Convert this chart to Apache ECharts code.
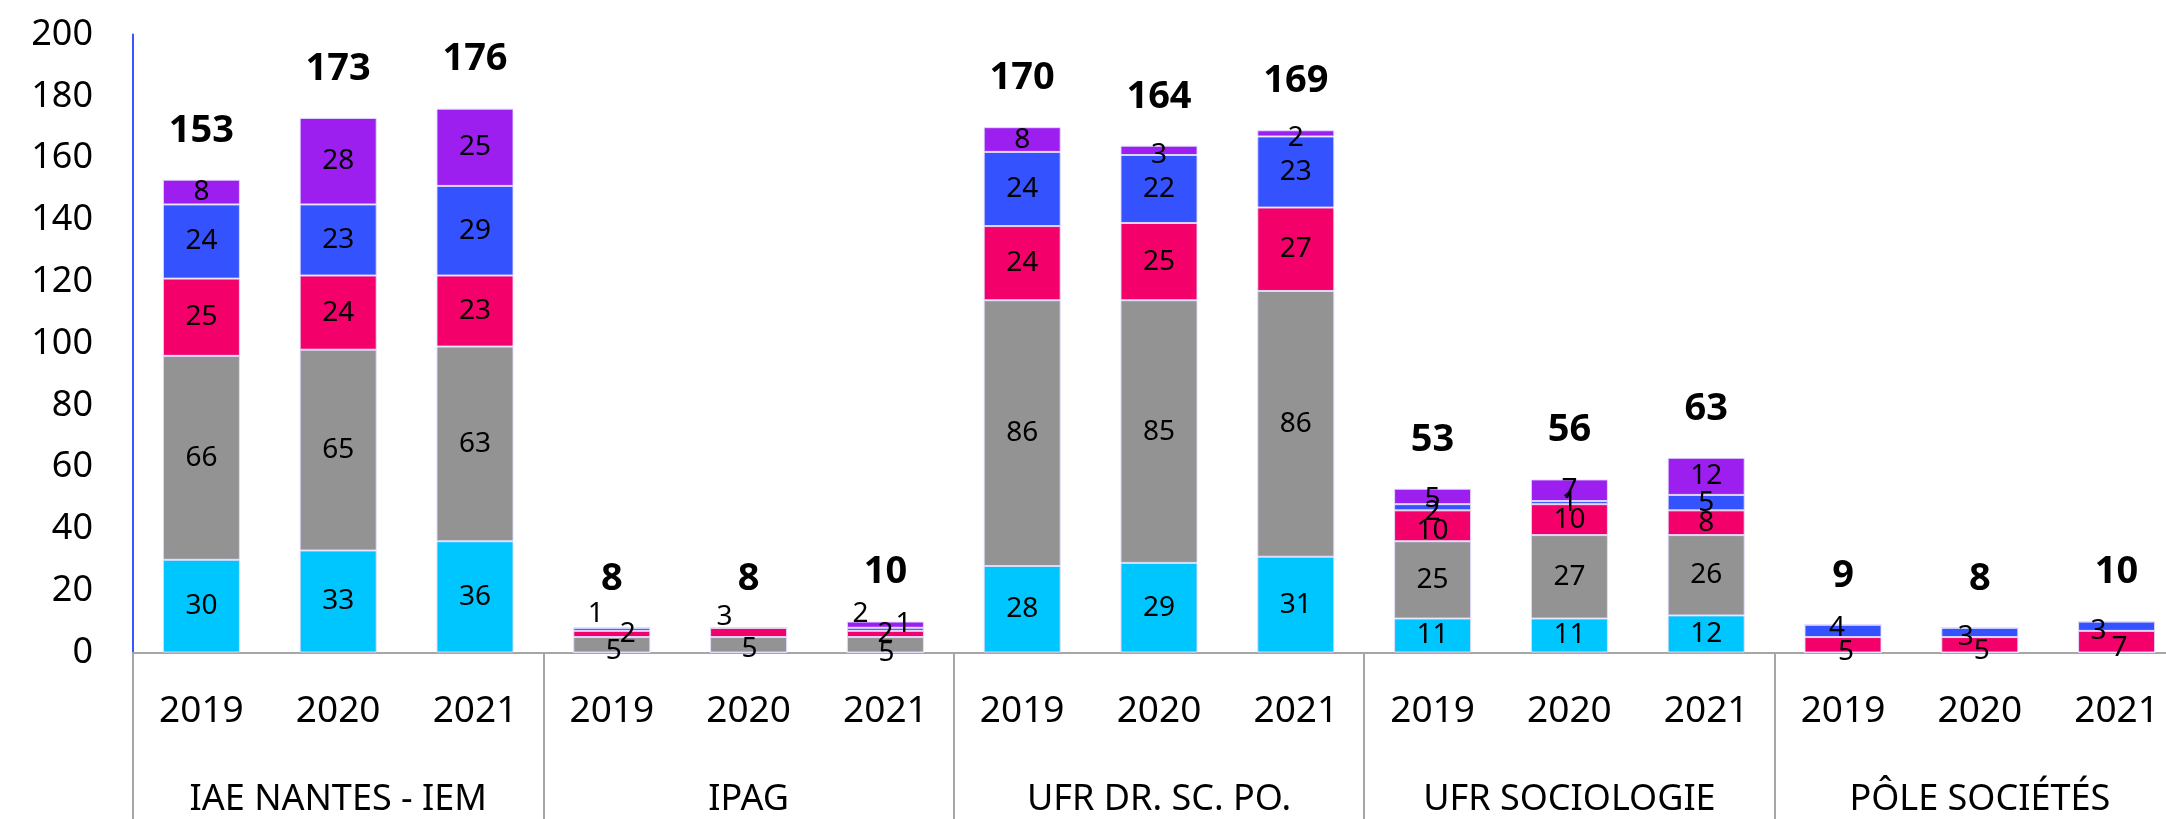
<!DOCTYPE html>
<html>
<head>
<meta charset="utf-8">
<script src="https://cdn.jsdelivr.net/npm/echarts@6/dist/echarts.min.js"></script>
<style>
html,body{margin:0;padding:0;background:#fff;overflow:hidden;}
#chart{width:2200px;height:819px;}
</style>
</head>
<body>
<div id="chart"></div>
<script>
// ---- data ----
const groups = ['IAE NANTES - IEM', 'IPAG', 'UFR DR. SC. PO.', 'UFR SOCIOLOGIE', 'PÔLE SOCIÉTÉS'];
const years = ['2019', '2020', '2021',
               '2019', '2020', '2021',
               '2019', '2020', '2021',
               '2019', '2020', '2021',
               '2019', '2020', '2021'];
const cyanValues   = [30, 33, 36, 0, 0, 0, 28, 29, 31, 11, 11, 12, 0, 0, 0];
const grayValues   = [66, 65, 63, 5, 5, 5, 86, 85, 86, 25, 27, 26, 0, 0, 0];
const redValues    = [25, 24, 23, 2, 3, 2, 24, 25, 27, 10, 10, 8, 5, 5, 7];
const blueValues   = [24, 23, 29, 1, 0, 1, 24, 22, 23, 2, 1, 5, 4, 3, 3];
const purpleValues = [8, 28, 25, 0, 0, 2, 8, 3, 2, 5, 7, 12, 0, 0, 0];
const totals       = [153, 173, 176, 8, 8, 10, 170, 164, 169, 53, 56, 63, 9, 8, 10];
const yTicks = [0, 20, 40, 60, 80, 100, 120, 140, 160, 180, 200];

// ---- styling ----
const FONT = 'Noto Sans';
const seriesDefs = [
  {name: 'cyan',   values: cyanValues,   color: '#00c6ff'},
  {name: 'gray',   values: grayValues,   color: '#939393'},
  {name: 'red',    values: redValues,    color: '#f3006a'},
  {name: 'blue',   values: blueValues,   color: '#3552ff'},
  {name: 'purple', values: purpleValues, color: '#9c1ff0'}
];
// label nudges (dx, dy) for crowded small segments, as in the reference
const labelNudges = {
  'gray:3': [2, 6], 'red:3': [16, 0], 'blue:3': [-16, -15],
  'gray:4': [1, 4], 'red:4': [-24, -15],
  'gray:5': [1, 8], 'blue:5': [18, -5], 'purple:5': [-25, -11],
  'purple:7': [0, 5], 'purple:8': [0, 5],
  'purple:9': [0, 3], 'blue:9': [0, 5], 'red:9': [0, 5],
  'blue:12': [-6, -3], 'red:12': [3, 7],
  'blue:13': [-14, 5], 'red:13': [2, 6],
  'blue:14': [-18, 5], 'red:14': [3, 6]
};

const barSeries = seriesDefs.map(def => ({
  name: def.name,
  type: 'bar',
  stack: 'total',
  barWidth: 77,
  xAxisIndex: 0,
  itemStyle: {color: def.color, borderColor: 'rgba(225,220,255,0.9)', borderWidth: 1},
  label: {
    show: true,
    position: 'inside',
    color: '#000',
    fontFamily: FONT,
    fontSize: 28,
    formatter: p => (p.value ? String(p.value) : '')
  },
  emphasis: {disabled: true},
  data: def.values.map((v, i) => {
    const n = labelNudges[def.name + ':' + i];
    return n ? {value: v, label: {offset: n}} : v;
  })
}));

// zero-height cap on each stack carrying the total label
const totalSeries = {
  name: 'total',
  type: 'bar',
  stack: 'total',
  barWidth: 77,
  xAxisIndex: 0,
  itemStyle: {color: 'rgba(0,0,0,0)'},
  label: {
    show: true,
    position: 'top',
    distance: 30,
    color: '#000',
    fontFamily: FONT,
    fontWeight: 'bold',
    fontSize: 38,
    formatter: p => String(totals[p.dataIndex])
  },
  emphasis: {disabled: true},
  data: totals.map(() => 0),
  z: 5
};

const chart = echarts.init(document.getElementById('chart'), null, {renderer: 'canvas'});
chart.setOption({
  animation: false,
  backgroundColor: '#fff',
  grid: {left: 133, width: 2052, top: 34.5, bottom: 166.5, containLabel: false},
  xAxis: [
    {
      type: 'category',
      data: years,
      position: 'bottom',
      axisLine: {show: true, lineStyle: {color: '#a6a6a6', width: 2}},
      axisTick: {show: false},
      axisLabel: {color: '#000', fontFamily: FONT, fontSize: 37, margin: 40, interval: 0},
      splitLine: {show: false}
    },
    {
      type: 'category',
      data: groups,
      position: 'bottom',
      gridIndex: 0,
      axisLine: {show: false},
      axisTick: {show: true, interval: 0, length: 170, lineStyle: {color: '#a6a6a6', width: 2}},
      axisLabel: {color: '#000', fontFamily: FONT, fontSize: 36, margin: 129, interval: 0},
      splitLine: {show: false}
    }
  ],
  yAxis: {
    type: 'value',
    min: yTicks[0],
    max: yTicks[yTicks.length - 1],
    interval: yTicks[1] - yTicks[0],
    axisLine: {show: true, lineStyle: {color: '#3a55ff', width: 2}},
    axisTick: {show: false},
    splitLine: {show: false},
    axisLabel: {color: '#000', fontFamily: FONT, fontSize: 36, margin: 40}
  },
  series: [...barSeries, totalSeries]
});
</script>
</body>
</html>
